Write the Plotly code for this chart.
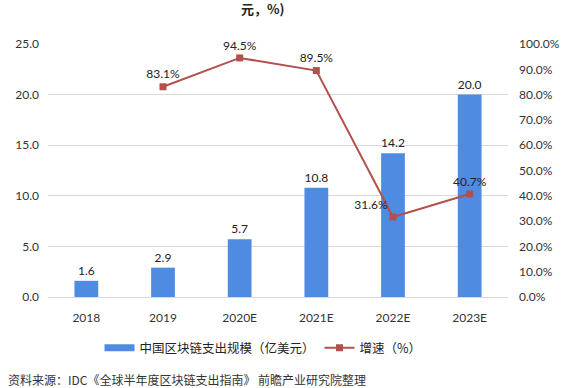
import plotly.graph_objects as go

categories = ["2018", "2019", "2020E", "2021E", "2022E", "2023E"]
spending = [1.6, 2.9, 5.7, 10.8, 14.2, 20.0]
growth_cats = ["2019", "2020E", "2021E", "2022E", "2023E"]
growth = [0.831, 0.945, 0.895, 0.316, 0.407]
growth_pos = ["top center", "top center", "top center", "top left", "top center"]

num_font = "Lato, Open Sans, sans-serif"
cjk_font = "Noto Sans CJK SC, sans-serif"
bar_color = "#4f8be0"
line_color = "#b3504d"

W, H = 567, 388
L, R, T, B = 48, 59, 44, 91
ph = H - T - B
pw = W - L - R

def py(p):
    return (H - B - p) / ph

def px(p):
    return (p - L) / pw

fig = go.Figure()
fig.add_trace(go.Bar(
    x=categories, y=spending, name="中国区块链支出规模（亿美元）",
    marker=dict(color=bar_color, line=dict(width=0)),
    width=0.31, showlegend=False,
    text=[f"{v:.1f}" for v in spending], textposition="outside",
    textfont=dict(family=num_font, size=12, color="#222222"),
    cliponaxis=False,
))
# legend entry drawn as a wide blue band, like the reference
fig.add_trace(go.Scatter(
    x=[None], y=[None], name="中国区块链支出规模（亿美元）",
    mode="lines", line=dict(color=bar_color, width=7),
))
fig.add_trace(go.Scatter(
    x=growth_cats, y=growth, name="增速（%）", yaxis="y2",
    mode="lines+markers+text",
    line=dict(color=line_color, width=2),
    marker=dict(symbol="square", size=7, color=line_color),
    text=[f"{v*100:.1f}%" for v in growth], textposition=growth_pos,
    textfont=dict(family=num_font, size=12, color="#222222"),
    cliponaxis=False,
))

fig.update_layout(
    width=W, height=H,
    margin=dict(l=L, r=R, t=T, b=B, autoexpand=False),
    paper_bgcolor="white", plot_bgcolor="white",
    xaxis=dict(type="category", categoryorder="array", categoryarray=categories,
               range=[-0.5, 5.5], automargin=False,
               showgrid=False, showline=True, linecolor="#d9d9d9", ticks="",
               tickfont=dict(family=num_font, size=12, color="#333333"),
               ticklabelstandoff=10),
    yaxis=dict(range=[0, 25], dtick=5, tickformat=".1f", automargin=False,
               showgrid=True, gridcolor="#d9d9d9", zeroline=False,
               tickfont=dict(family=num_font, size=12, color="#333333"),
               ticklabelstandoff=8),
    yaxis2=dict(range=[0, 1], dtick=0.1, tickformat=".1%", overlaying="y", side="right",
                automargin=False, showgrid=False, zeroline=False,
                tickfont=dict(family=num_font, size=12, color="#333333"),
                ticklabelstandoff=10),
    showlegend=True,
    legend=dict(orientation="h", x=px(263), xanchor="center", y=py(348), yanchor="middle",
                font=dict(family=cjk_font, size=12.5, color="#222222"),
                traceorder="normal", itemwidth=30, tracegroupgap=0),
    annotations=[
        dict(text="<b>元，%)</b>", x=px(262), y=py(9), xref="paper", yref="paper",
             xanchor="center", yanchor="middle",
             showarrow=False, font=dict(family=cjk_font, size=13, color="#222222")),
        dict(text="资料来源：IDC《全球半年度区块链支出指南》 前瞻产业研究院整理",
             x=px(6), xanchor="left", y=py(379), yanchor="middle", yref="paper", xref="paper",
             showarrow=False, font=dict(family=cjk_font, size=12, color="#333333")),
    ],
)

fig.write_html("out.html", config={"displayModeBar": False},
               post_script="document.body.style.margin='0';")
